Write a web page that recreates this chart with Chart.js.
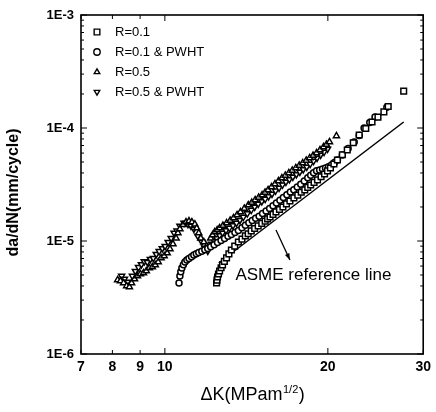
<!DOCTYPE html>
<html><head><meta charset="utf-8">
<script src="https://cdn.jsdelivr.net/npm/chart.js@4/dist/chart.umd.min.js"></script>
<style>html,body{margin:0;padding:0;background:#fff}#wrap{width:436px;height:412px}</style>
</head><body><div id="wrap"><canvas id="c" width="436" height="412"></canvas></div>
<script>
// ---- data ----
const xTicks = [7, 8, 9, 10, 20, 30];
const yTicks = [1e-6, 1e-5, 1e-4, 1e-3];
const seriesLabels = ['R=0.1', 'R=0.1 & PWHT', 'R=0.5', 'R=0.5 & PWHT'];

const r01_dK = [12.46,12.48,12.51,12.56,12.62,12.70,12.78,12.88,13.00,13.13,13.27,13.46,13.67,13.88,14.08,14.25,14.44,14.65,14.87,15.10,15.32,15.48,15.64,15.84,16.04,16.28,16.52,16.77,17.02,17.31,17.60,17.86,18.13,18.36,18.59,18.86,19.14,19.43,19.72,19.97,20.22,20.52,20.83,21.27,21.72,22.28,22.85,23.50,24.13,24.75,25.38,25.85,27.61];
const r01_rate = [4.25e-6,4.5e-6,4.80e-6,5.1e-6,5.43e-6,5.8e-6,6.14e-6,6.6e-6,7.08e-6,7.7e-6,8.33e-6,9.0e-6,9.80e-6,1.04e-5,1.11e-5,1.16e-5,1.23e-5,1.29e-5,1.36e-5,1.43e-5,1.50e-5,1.57e-5,1.63e-5,1.72e-5,1.81e-5,1.90e-5,2.00e-5,2.13e-5,2.26e-5,2.41e-5,2.55e-5,2.70e-5,2.83e-5,2.98e-5,3.13e-5,3.30e-5,3.47e-5,3.70e-5,3.92e-5,4.18e-5,4.43e-5,4.80e-5,5.21e-5,5.80e-5,6.39e-5,7.40e-5,8.67e-5,9.90e-5,1.13e-4,1.25e-4,1.39e-4,1.55e-4,2.12e-4];

const r01p_dK = [10.62,10.66,10.70,10.75,10.82,10.89,10.98,11.08,11.20,11.31,11.43,11.55,11.70,11.85,12.00,12.15,12.33,12.51,12.70,12.89,13.08,13.27,13.47,13.67,13.88,14.08,14.29,14.50,14.71,14.93,15.15,15.38,15.61,15.84,16.07,16.31,16.55,16.80,17.05,17.30,17.56,17.82,18.09,18.36,18.59,18.82,19.06,19.31,19.55,19.80,20.05,20.31,20.57,20.83,21.27,21.80,22.37,22.85,23.33,23.90,24.44,25.70];
const r01p_rate = [4.25e-6,4.90e-6,5.35e-6,5.77e-6,6.15e-6,6.52e-6,6.8e-6,7.0e-6,7.25e-6,7.5e-6,7.7e-6,7.9e-6,8.1e-6,8.35e-6,8.6e-6,8.9e-6,9.25e-6,9.7e-6,1.01e-5,1.05e-5,1.10e-5,1.14e-5,1.19e-5,1.24e-5,1.31e-5,1.38e-5,1.45e-5,1.52e-5,1.59e-5,1.66e-5,1.75e-5,1.84e-5,1.94e-5,2.05e-5,2.17e-5,2.29e-5,2.43e-5,2.57e-5,2.71e-5,2.84e-5,3.00e-5,3.18e-5,3.40e-5,3.62e-5,3.82e-5,4.02e-5,4.18e-5,4.25e-5,4.33e-5,4.43e-5,4.55e-5,4.71e-5,4.95e-5,5.21e-5,5.77e-5,6.6e-5,7.52e-5,8.6e-5,1.00e-4,1.12e-4,1.25e-4,1.53e-4];

const r05_dK = [8.18,8.28,8.39,8.50,8.60,8.68,8.79,8.90,9.01,9.13,9.24,9.36,9.48,9.60,9.72,9.84,9.97,10.10,10.22,10.35,10.49,10.57,10.66,10.80,10.94,11.08,11.22,11.36,11.45,11.55,11.65,11.80,11.95,
  12.15,12.25,12.36,12.49,12.62,12.80,13.00,13.20,13.39,13.59,13.79,14.02,14.26,14.47,14.68,14.90,15.12,15.31,15.51,15.74,15.97,16.21,16.45,16.69,16.94,17.19,17.45,17.71,17.97,18.24,18.51,18.78,19.06,19.34,19.63,19.88,20.14,20.74];
const r05_rate = [4.52e-6,4.43e-6,4.25e-6,4.0e-6,3.92e-6,4.25e-6,4.61e-6,4.90e-6,5.11e-6,5.21e-6,5.43e-6,5.77e-6,5.89e-6,6.14e-6,6.52e-6,7.08e-6,7.37e-6,7.83e-6,8.50e-6,9.41e-6,1.06e-5,1.18e-5,1.28e-5,1.39e-5,1.47e-5,1.50e-5,1.47e-5,1.41e-5,1.30e-5,1.18e-5,1.06e-5,9.80e-6,9.03e-6,
  1.06e-5,1.13e-5,1.20e-5,1.25e-5,1.30e-5,1.37e-5,1.44e-5,1.52e-5,1.60e-5,1.70e-5,1.81e-5,1.94e-5,2.08e-5,2.19e-5,2.31e-5,2.43e-5,2.55e-5,2.69e-5,2.83e-5,3.01e-5,3.20e-5,3.40e-5,3.61e-5,3.80e-5,4.00e-5,4.21e-5,4.43e-5,4.66e-5,4.90e-5,5.16e-5,5.43e-5,5.71e-5,6.01e-5,6.40e-5,6.79e-5,7.15e-5,7.52e-5,8.50e-5];

const r05p_dK = [8.32,8.42,8.53,8.71,8.82,8.94,9.05,9.16,9.28,9.40,9.52,9.64,9.76,9.89,10.01,10.14,10.27,10.40,10.53,10.66,10.85,11.03,11.17,11.31,11.50,11.70,11.85,12.00,
  12.20,12.33,12.46,12.62,12.78,12.97,13.16,13.36,13.56,13.76,13.96,14.20,14.44,14.65,14.87,15.10,15.32,15.54,15.77,16.01,16.25,16.49,16.73,16.98,17.23,17.49,17.75,18.01,18.28,18.55,18.82,19.10,19.39,19.68,19.97];
const r05p_rate = [4.90e-6,4.61e-6,4.34e-6,4.9e-6,5.4e-6,5.85e-6,6.2e-6,6.6e-6,6.5e-6,6.9e-6,7.05e-6,7.65e-6,8.1e-6,8.6e-6,9.0e-6,9.75e-6,1.06e-5,1.18e-5,1.23e-5,1.36e-5,1.44e-5,1.41e-5,1.36e-5,1.28e-5,1.11e-5,9.80e-6,8.67e-6,8.16e-6,
  9.41e-6,1.00e-5,1.06e-5,1.12e-5,1.18e-5,1.24e-5,1.30e-5,1.37e-5,1.44e-5,1.53e-5,1.63e-5,1.75e-5,1.88e-5,2.00e-5,2.13e-5,2.24e-5,2.35e-5,2.48e-5,2.61e-5,2.78e-5,2.95e-5,3.14e-5,3.33e-5,3.51e-5,3.69e-5,3.88e-5,4.08e-5,4.30e-5,4.52e-5,4.80e-5,5.10e-5,5.43e-5,5.77e-5,6.13e-5,6.52e-5];

const asme_dK = [12.57, 27.61];
const asme_rate = [6.39e-6, 1.13e-4];
const arrow_dK = [16.04, 17.02];
const arrow_rate = [1.25e-5, 6.79e-6];
const noteText = 'ASME reference line';
const note_dK = 13.5;
const note_rate = 5.0e-6;
const xTitleMain = 'ΔK(MPam';
const xTitleSup = '1/2';
const yTitle = 'da/dN(mm/cycle)';

// ---- chart ----
const FONT = "'Liberation Sans', Arial, Helvetica, sans-serif";
const pts = (xs, ys) => xs.map((x, i) => ({x: x, y: ys[i]}));
const markerBase = {showLine: false, borderColor: '#000', backgroundColor: '#fff', pointBorderWidth: 1.5, pointBackgroundColor: '#fff', pointBorderColor: '#000'};

const datasets = [
  Object.assign({label: seriesLabels[0], data: pts(r01_dK, r01_rate), pointStyle: 'rect', pointRadius: 4, pointRotation: 0}, markerBase),
  Object.assign({label: seriesLabels[1], data: pts(r01p_dK, r01p_rate), pointStyle: 'circle', pointRadius: 3, pointRotation: 0}, markerBase),
  Object.assign({label: seriesLabels[2], data: pts(r05_dK, r05_rate), pointStyle: 'triangle', pointRadius: 3.5, pointRotation: 0}, markerBase),
  Object.assign({label: seriesLabels[3], data: pts(r05p_dK, r05p_rate), pointStyle: 'triangle', pointRadius: 3.5, pointRotation: 180}, markerBase),
  {label: 'ASME', data: pts(asme_dK, asme_rate), showLine: true, borderColor: '#000', borderWidth: 1.5, pointRadius: 0, fill: false, isRef: true}
];

function drawMarker(ctx, style, r, rot, x, y) {
  ctx.save();
  ctx.fillStyle = '#fff'; ctx.strokeStyle = '#000'; ctx.lineWidth = 1.4;
  if (Chart.helpers && Chart.helpers.drawPoint) {
    Chart.helpers.drawPoint(ctx, {pointStyle: style, radius: r, rotation: rot, borderWidth: 1.4}, x, y);
  }
  ctx.restore();
}

const decor = {
  id: 'decor',
  afterDatasetsDraw(chart) {
    const ctx = chart.ctx, a = chart.chartArea, xs = chart.scales.x, ys = chart.scales.y;
    ctx.save();
    ctx.strokeStyle = '#000'; ctx.lineWidth = 1.6;
    ctx.strokeRect(a.left, a.top, a.right - a.left, a.bottom - a.top);
    ctx.lineWidth = 1;
    ctx.beginPath();
    for (let e = -6; e <= -3; e++) {
      for (let m = 1; m <= 9; m++) {
        const v = m * Math.pow(10, e);
        if (v > 1e-3 * 1.0001) break;
        const py = ys.getPixelForValue(v);
        const len = m === 1 ? 6 : 3;
        ctx.moveTo(a.left, py); ctx.lineTo(a.left + len, py);
        ctx.moveTo(a.right, py); ctx.lineTo(a.right - len, py);
      }
    }
    xTicks.forEach(v => {
      const px = xs.getPixelForValue(v);
      const len = (v === 10 || v === 20) ? 6 : 4;
      ctx.moveTo(px, a.bottom); ctx.lineTo(px, a.bottom - len);
      ctx.moveTo(px, a.top); ctx.lineTo(px, a.top + len);
    });
    ctx.stroke();
    // arrow
    const x0 = xs.getPixelForValue(arrow_dK[0]), y0 = ys.getPixelForValue(arrow_rate[0]);
    const x1 = xs.getPixelForValue(arrow_dK[1]), y1 = ys.getPixelForValue(arrow_rate[1]);
    ctx.lineWidth = 1.3;
    ctx.beginPath(); ctx.moveTo(x0, y0); ctx.lineTo(x1, y1); ctx.stroke();
    const ang = Math.atan2(y1 - y0, x1 - x0), hl = 7;
    ctx.fillStyle = '#000';
    ctx.beginPath();
    ctx.moveTo(x1, y1);
    ctx.lineTo(x1 - hl * Math.cos(ang - 0.35), y1 - hl * Math.sin(ang - 0.35));
    ctx.lineTo(x1 - hl * Math.cos(ang + 0.35), y1 - hl * Math.sin(ang + 0.35));
    ctx.closePath(); ctx.fill();
    // note text
    ctx.font = '17px ' + FONT;
    ctx.textBaseline = 'middle'; ctx.textAlign = 'left';
    ctx.fillText(noteText, xs.getPixelForValue(note_dK), ys.getPixelForValue(note_rate));
    // legend
    ctx.font = '13px ' + FONT;
    chart.data.datasets.forEach((ds, i) => {
      if (ds.isRef) return;
      const ly = a.top + 17 + i * 20;
      drawMarker(ctx, ds.pointStyle, ds.pointStyle === 'rect' ? 4 : 3.2, ds.pointRotation, a.left + 16, ly);
      ctx.fillStyle = '#000';
      ctx.fillText(ds.label, a.left + 34, ly);
    });
    // y title
    ctx.save();
    ctx.translate(14, (a.top + a.bottom) / 2 + 8);
    ctx.rotate(-Math.PI / 2);
    ctx.font = 'bold 16px ' + FONT;
    ctx.textAlign = 'center'; ctx.textBaseline = 'middle';
    ctx.fillText(yTitle, 0, 0);
    ctx.restore();
    // x title with superscript
    ctx.font = '18px ' + FONT;
    const w1 = ctx.measureText(xTitleMain).width;
    ctx.font = '11px ' + FONT;
    const w2 = ctx.measureText(xTitleSup).width;
    ctx.font = '18px ' + FONT;
    const w3 = ctx.measureText(')').width;
    const total = w1 + w2 + w3;
    let tx = (a.left + a.right) / 2 - total / 2;
    const ty = 395;
    ctx.textAlign = 'left'; ctx.textBaseline = 'middle';
    ctx.fillText(xTitleMain, tx, ty);
    ctx.font = '11px ' + FONT;
    ctx.fillText(xTitleSup, tx + w1 + 0.5, ty - 5);
    ctx.font = '18px ' + FONT;
    ctx.fillText(')', tx + w1 + w2 + 1, ty);
    ctx.restore();
  }
};

new Chart(document.getElementById('c'), {
  type: 'scatter',
  data: {datasets: datasets},
  options: {
    responsive: false, animation: false, devicePixelRatio: 1,
    layout: {padding: {left: 0, right: 10, top: 15, bottom: 0}},
    plugins: {legend: {display: false}, tooltip: {enabled: false}},
    scales: {
      x: {
        type: 'logarithmic', min: 7, max: 30, position: 'bottom',
        afterBuildTicks: s => { s.ticks = xTicks.map(v => ({value: v})); },
        afterFit: s => { s.height = 58; },
        grid: {display: false, drawTicks: false}, border: {display: false},
        ticks: {autoSkip: false, maxRotation: 0, padding: 5, color: '#000',
          font: {family: FONT, size: 14, weight: 'bold'}, callback: v => String(v)}
      },
      y: {
        type: 'logarithmic', min: 1e-6, max: 1e-3,
        afterBuildTicks: s => { s.ticks = yTicks.map(v => ({value: v})); },
        afterFit: s => { s.width = 81; },
        grid: {display: false, drawTicks: false}, border: {display: false},
        ticks: {autoSkip: false, padding: 7, color: '#000',
          font: {family: FONT, size: 13, weight: 'bold'}, callback: v => '1E' + Math.round(Math.log10(v))}
      }
    }
  },
  plugins: [decor]
});
</script>
</body></html>
